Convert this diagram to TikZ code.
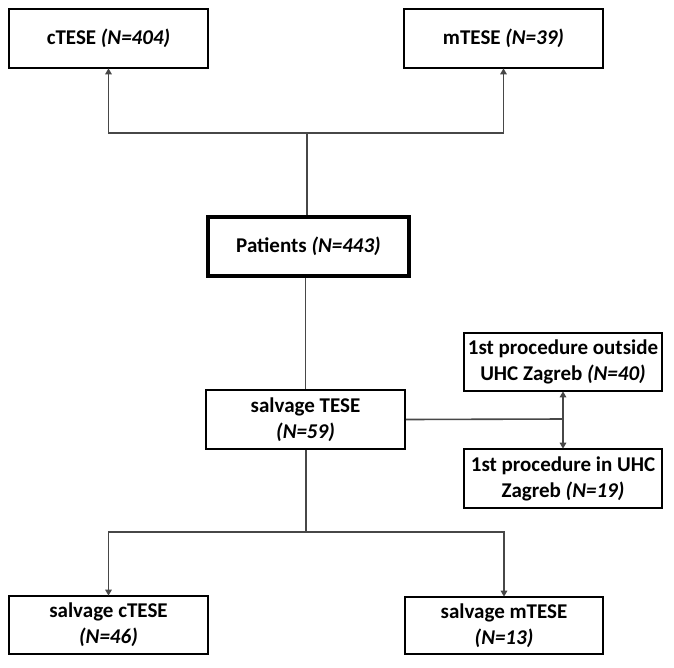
\documentclass[tikz,border=0pt]{standalone}
\usepackage{fontspec}
\setmainfont{Carlito}
\usetikzlibrary{arrows.meta}
\tikzset{
  box/.style={draw=black, line width=1.7pt, fill=white, align=center, inner sep=2pt,
    font=\fontsize{21}{26}\selectfont\bfseries},
  thickbox/.style={box, line width=3.4pt},
  conn/.style={draw=black!72, line width=1.6pt},
  arr/.style={conn, -{Triangle[width=6.5pt,length=6pt]}, shorten >=-0.5pt}
}
\begin{document}
\begin{tikzpicture}[x=1pt,y=-1pt]
\useasboundingbox (0,0) rectangle (674,667);
\fill[white] (0,0) rectangle (674,667);
\node[box, minimum width=199pt, minimum height=59pt] (ctese) at (108.5,38.5) {cTESE \textit{(N=404)}};
\node[box, minimum width=199pt, minimum height=59pt] (mtese) at (503.5,38.5) {mTESE \textit{(N=39)}};
\node[thickbox, minimum width=201pt, minimum height=59pt] (pat) at (308.5,246.5) {Patients \textit{(N=443)}};
\node[box, minimum width=199pt, minimum height=59pt] (sal) at (305.5,419.5) {salvage TESE\\\textit{(N=59)}};
\node[box, minimum width=198pt, minimum height=58pt] (out) at (563,362) {1st procedure outside\\UHC Zagreb \textit{(N=40)}};
\node[box, minimum width=198pt, minimum height=59pt] (in) at (563,478.5) {1st procedure in UHC\\Zagreb \textit{(N=19)}};
\node[box, minimum width=199pt, minimum height=58pt] (sctese) at (108.5,625) {salvage cTESE\\\textit{(N=46)}};
\node[box, minimum width=198pt, minimum height=57pt] (smtese) at (504,625.5) {salvage mTESE\\\textit{(N=13)}};
\coordinate (j1) at (307,133);
\coordinate (j2) at (563,419);
\coordinate (j3) at (306,532);
\draw[conn] (j1 |- pat.north) -- (j1);
\draw[arr] (j1) -| (ctese.south);
\draw[arr] (j1) -| (mtese.south);
\draw[conn] (sal.north |- pat.south) -- (sal.north);
\draw[conn] (sal.east) -- (j2);
\draw[arr] (j2) -- (out.south);
\draw[arr] (j2) -- (in.north);
\draw[conn] (j3 |- sal.south) -- (j3);
\draw[arr] (j3) -| (sctese.north);
\draw[arr] (j3) -| (smtese.north);
\end{tikzpicture}
\end{document}
